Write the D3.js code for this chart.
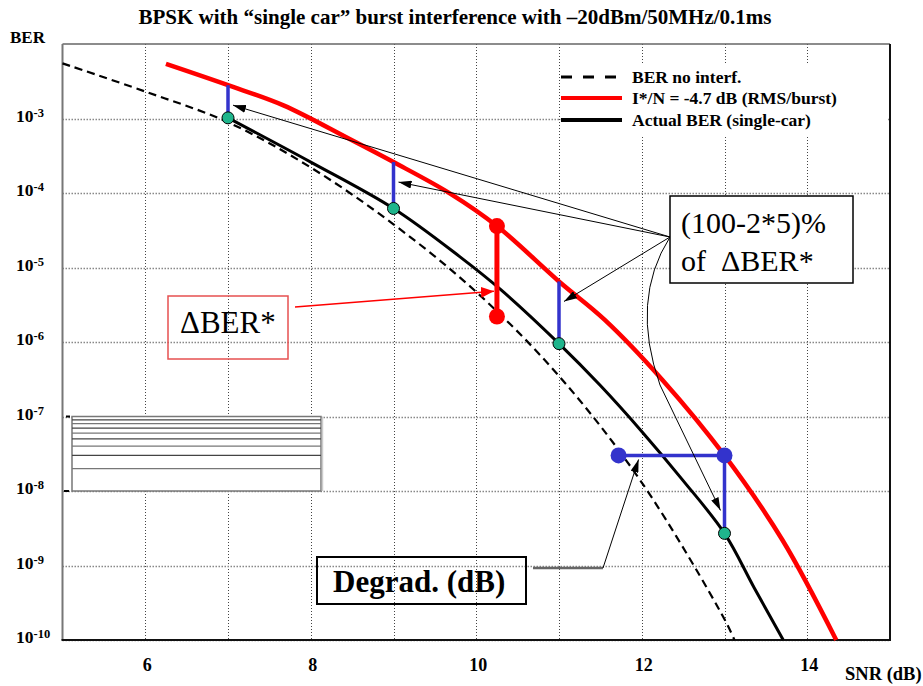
<!DOCTYPE html>
<html>
<head>
<meta charset="utf-8">
<script src="https://cdn.jsdelivr.net/npm/d3@7"></script>
<style>
  body { margin: 0; background: #fff; }
  svg { display: block; font-family: "Liberation Serif", "Times New Roman", serif; }
</style>
</head>
<body>
<div class="chartWrapper"></div>
<script>

// values (SNR in dB, BER)
var noInterfSnr = [5, 6, 7, 8, 9, 10, 11, 12, 13, 13.12]
var noInterfBer = [5.5e-3, 2.3e-3, 8.9e-4, 2.2e-4, 3.8e-5, 4.7e-6, 3.5e-7, 1.3e-8, 1.9e-10, 1e-10]

var burstSnr = [6.25, 7, 7.67, 8.47, 9, 9.68, 10.25, 11, 11.55, 12.25, 13, 13.7, 14.35]
var burstBer = [5.4e-3, 2.8e-3, 1.5e-3, 5.3e-4, 2.6e-4, 9.9e-5, 3.6e-5, 6.5e-6, 2.0e-6, 3.1e-7, 3.0e-8, 2.2e-9, 1e-10]

var actualSnr = [7, 8, 9, 9.8, 10.3, 11, 11.5, 12, 12.5, 13, 13.36, 13.71]
var actualBer = [1.02e-3, 2.6e-4, 6.2e-5, 1.4e-5, 5.0e-6, 9.5e-7, 2.6e-7, 6.3e-8, 1.38e-8, 2.7e-9, 5.0e-10, 1e-10]

// blue bars: from actual BER (bottom) up to I*/N curve (top)
var markSnr = [7, 9, 11, 13]
var markTop = [2.8e-3, 2.6e-4, 6.5e-6, 3.0e-8]
var markBottom = [1.02e-3, 6.2e-5, 9.5e-7, 2.7e-9]

// delta BER* (red) and degradation (blue horizontal)
var deltaSnr = 10.25
var deltaBer = [3.6e-5, 2.2e-6]
var degradSnr = [11.72, 13]
var degradBer = 3.0e-8

var xTicks = [6, 8, 10, 12, 14]
var xGrid = [6, 7, 8, 9, 10, 11, 12, 13, 14]
var yExponents = [-3, -4, -5, -6, -7, -8, -9, -10]
var minorFactors = [2, 3, 4, 5, 6, 7, 8, 9]

var legendLabels = ['BER no interf.', 'I*/N = -4.7 dB (RMS/burst)', 'Actual BER (single-car)']

var width = 923, height = 686
var red = '#ff0000', blue = '#3333cc', green = '#1fb58c'

var svg = d3.select('.chartWrapper').append('svg')
            .attr('width', width)
            .attr('height', height)

var x = d3.scaleLinear().domain([5, 15]).range([62.5, 890])
var y = d3.scaleLog().domain([1e-10, 1e-2]).range([640, 44])

var defs = svg.append('defs')
function arrowMarker(id, color, len, wid) {
    defs.append('marker')
        .attr('id', id)
        .attr('markerUnits', 'userSpaceOnUse')
        .attr('viewBox', '0 0 ' + len + ' ' + wid)
        .attr('refX', len).attr('refY', wid / 2)
        .attr('markerWidth', len).attr('markerHeight', wid)
        .attr('orient', 'auto')
        .append('path')
        .attr('d', 'M0,0L' + len + ',' + wid / 2 + 'L0,' + wid + 'Z')
        .attr('fill', color)
}
arrowMarker('arrowBlack', '#000', 13, 8)
arrowMarker('arrowRed', red, 13, 11)

//---------------- grid ----------------
svg.append('g').selectAll('line')
   .data(xGrid).enter().append('line')
   .attr('x1', d => Math.round(x(d)) + 0.5).attr('x2', d => Math.round(x(d)) + 0.5)
   .attr('y1', y(1e-2)).attr('y2', y(1e-10))
   .attr('stroke', '#444').attr('stroke-width', 1).attr('stroke-dasharray', '1,2')

svg.append('g').selectAll('line')
   .data(yExponents).enter().append('line')
   .attr('x1', x(5)).attr('x2', x(15))
   .attr('y1', d => Math.round(y(Math.pow(10, d))) + 0.5)
   .attr('y2', d => Math.round(y(Math.pow(10, d))) + 0.5)
   .attr('stroke', '#888').attr('stroke-width', 1.5).attr('stroke-dasharray', '1.5,1.5')

// leftover minor-grid box between 1e-8 and 1e-7
var boxL = 72, boxR = 321
var minor = svg.append('g')
minor.append('rect')
     .attr('x', boxL).attr('y', y(1e-7))
     .attr('width', boxR - boxL).attr('height', y(1e-8) - y(1e-7))
     .attr('fill', '#fff').attr('stroke', '#777').attr('stroke-width', 1.5)
minor.selectAll('line.minor')
     .data(minorFactors).enter().append('line')
     .attr('class', 'minor')
     .attr('x1', boxL).attr('x2', boxR)
     .attr('y1', d => y(d * 1e-8)).attr('y2', d => y(d * 1e-8))
     .attr('stroke', d => d % 2 ? '#444' : '#777').attr('stroke-width', 1.2)
minor.append('line').attr('x1', boxR + 1.5).attr('x2', boxR + 1.5)
     .attr('y1', y(1e-7)).attr('y2', y(1e-8)).attr('stroke', '#ccc').attr('stroke-width', 1.5)
minor.append('line').attr('x1', 66).attr('x2', 70).attr('y1', y(1e-7)).attr('y2', y(1e-7))
     .attr('stroke', '#000').attr('stroke-width', 2)
minor.append('line').attr('x1', 64).attr('x2', 69).attr('y1', y(1e-8)).attr('y2', y(1e-8))
     .attr('stroke', '#000').attr('stroke-width', 2)

//---------------- frame ----------------
svg.append('line').attr('x1', x(5)).attr('x2', x(15)).attr('y1', y(1e-2)).attr('y2', y(1e-2))
   .attr('stroke', '#666').attr('stroke-width', 1.5)
svg.append('line').attr('x1', x(5)).attr('x2', x(5)).attr('y1', y(1e-2)).attr('y2', y(1e-10))
   .attr('stroke', '#777').attr('stroke-width', 2)
svg.append('line').attr('x1', x(15)).attr('x2', x(15)).attr('y1', y(1e-2)).attr('y2', y(1e-10))
   .attr('stroke', '#111').attr('stroke-width', 2)
svg.append('line').attr('x1', x(5) - 1).attr('x2', x(15) + 1).attr('y1', y(1e-10)).attr('y2', y(1e-10))
   .attr('stroke', '#111').attr('stroke-width', 2)

//---------------- axis texts ----------------
svg.append('text')
   .attr('x', 455).attr('y', 24)
   .attr('text-anchor', 'middle')
   .attr('font-size', 21).attr('font-weight', 'bold')
   .text('BPSK with \u201csingle car\u201d burst interference with \u201320dBm/50MHz/0.1ms')

svg.append('text').attr('x', 10).attr('y', 43)
   .attr('font-size', 17).attr('font-weight', 'bold').text('BER')

svg.append('text').attr('x', 845).attr('y', 680)
   .attr('font-size', 18.5).attr('font-weight', 'bold').text('SNR (dB)')

var yLabels = svg.append('g').selectAll('text')
                 .data(yExponents).enter().append('text')
                 .attr('x', 16).attr('y', d => y(Math.pow(10, d)) + 3)
                 .attr('font-size', 17.5).attr('font-weight', 'bold')
yLabels.append('tspan').text('10')
yLabels.append('tspan').attr('font-size', 12.5).attr('dy', -5).text(d => d)

svg.append('g').selectAll('text')
   .data(xTicks).enter().append('text')
   .attr('x', d => x(d) + 2).attr('y', 671)
   .attr('text-anchor', 'middle')
   .attr('font-size', 18).attr('font-weight', 'bold')
   .text(d => d)

//---------------- curves ----------------
var line = d3.line()
             .x(d => x(d[0]))
             .y(d => y(d[1]))
             .curve(d3.curveCatmullRom.alpha(0.5))

svg.append('path')
   .datum(d3.zip(noInterfSnr, noInterfBer))
   .attr('d', line)
   .attr('fill', 'none').attr('stroke', '#000').attr('stroke-width', 2.2)
   .attr('stroke-dasharray', '8,5')

svg.append('path')
   .datum(d3.zip(actualSnr, actualBer))
   .attr('d', line)
   .attr('fill', 'none').attr('stroke', '#000').attr('stroke-width', 3)

svg.append('path')
   .datum(d3.zip(burstSnr, burstBer))
   .attr('d', line)
   .attr('fill', 'none').attr('stroke', red).attr('stroke-width', 4.5)

//---------------- marks ----------------
svg.append('g').selectAll('line')
   .data(markSnr).enter().append('line')
   .attr('x1', d => x(d)).attr('x2', d => x(d))
   .attr('y1', (d, i) => y(markTop[i])).attr('y2', (d, i) => y(markBottom[i]))
   .attr('stroke', blue).attr('stroke-width', 3.5)

// delta BER*
svg.append('line')
   .attr('x1', x(deltaSnr)).attr('x2', x(deltaSnr))
   .attr('y1', y(deltaBer[0])).attr('y2', y(deltaBer[1]))
   .attr('stroke', red).attr('stroke-width', 5)
svg.append('g').selectAll('circle')
   .data(deltaBer).enter().append('circle')
   .attr('cx', x(deltaSnr)).attr('cy', d => y(d)).attr('r', 8)
   .attr('fill', red)

// degradation
svg.append('line')
   .attr('x1', x(degradSnr[0])).attr('x2', x(degradSnr[1]))
   .attr('y1', y(degradBer)).attr('y2', y(degradBer))
   .attr('stroke', blue).attr('stroke-width', 3.5)
svg.append('g').selectAll('circle')
   .data(degradSnr).enter().append('circle')
   .attr('cx', d => x(d)).attr('cy', y(degradBer)).attr('r', 8)
   .attr('fill', blue)

svg.append('g').selectAll('circle')
   .data(markSnr).enter().append('circle')
   .attr('cx', d => x(d)).attr('cy', (d, i) => y(markBottom[i])).attr('r', 6)
   .attr('fill', green).attr('stroke', '#000').attr('stroke-width', 1)

//---------------- annotations ----------------
// (100-2*5)% of delta BER*
var pctBox = { x: 670, y: 196, w: 183, h: 87 }
var pctOrigin = [pctBox.x, 237]
var pct = svg.append('g')
markSnr.slice(0, 3).forEach(function(s, i) {
    pct.append('line')
       .attr('x1', pctOrigin[0]).attr('y1', pctOrigin[1])
       .attr('x2', x(s) + 5).attr('y2', y(markTop[i]) + 20)
       .attr('stroke', '#000').attr('stroke-width', 1)
       .attr('marker-end', 'url(#arrowBlack)')
})
var tip4 = [x(markSnr[3]) - 4, y(markTop[3]) + 55]
pct.append('path')
   .attr('d', 'M' + pctOrigin + ' Q630,300 660,385 L' + tip4)
   .attr('fill', 'none').attr('stroke', '#000').attr('stroke-width', 1)
   .attr('marker-end', 'url(#arrowBlack)')
pct.append('rect')
   .attr('x', pctBox.x).attr('y', pctBox.y).attr('width', pctBox.w).attr('height', pctBox.h)
   .attr('fill', '#fff').attr('stroke', '#000').attr('stroke-width', 1.5)
pct.append('text').attr('x', 681).attr('y', 233).attr('font-size', 30).text('(100-2*5)%')
pct.append('text').attr('x', 681).attr('y', 271).attr('font-size', 30)
   .attr('xml:space', 'preserve').text('of  \u0394BER*')

// delta BER* box
var dBox = { x: 168, y: 296, w: 120, h: 63 }
svg.append('line')
   .attr('x1', 295).attr('y1', 307)
   .attr('x2', x(deltaSnr) - 3).attr('y2', y(Math.sqrt(deltaBer[0] * deltaBer[1])) + 20)
   .attr('stroke', red).attr('stroke-width', 1.5)
   .attr('marker-end', 'url(#arrowRed)')
svg.append('rect')
   .attr('x', dBox.x).attr('y', dBox.y).attr('width', dBox.w).attr('height', dBox.h)
   .attr('fill', 'none').attr('stroke', '#e65050').attr('stroke-width', 1.5)
svg.append('text').attr('x', 180).attr('y', 333).attr('font-size', 31).text('\u0394BER*')

// Degrad. (dB)
var gBox = { x: 317, y: 557, w: 209, h: 47 }
svg.append('line').attr('x1', 533).attr('x2', 603).attr('y1', 568).attr('y2', 568)
   .attr('stroke', '#666').attr('stroke-width', 2.5)
svg.append('line')
   .attr('x1', 603).attr('y1', 568)
   .attr('x2', x(degradSnr[0]) + 20).attr('y2', y(degradBer) + 4)
   .attr('stroke', '#000').attr('stroke-width', 1)
   .attr('marker-end', 'url(#arrowBlack)')
svg.append('rect')
   .attr('x', gBox.x).attr('y', gBox.y).attr('width', gBox.w).attr('height', gBox.h)
   .attr('fill', 'none').attr('stroke', '#000').attr('stroke-width', 2)
svg.append('text').attr('x', 333).attr('y', 592)
   .attr('font-size', 31).attr('font-weight', 'bold').text('Degrad. (dB)')

//---------------- legend ----------------
var legend = svg.append('g')
legend.append('rect').attr('x', 562).attr('y', 63).attr('width', 326).attr('height', 72)
      .attr('fill', '#fff')
var legendStyles = [
    { color: '#000', width: 3, dash: '11,11' },
    { color: red, width: 4, dash: null },
    { color: '#000', width: 4, dash: null }
]
var legendRows = legend.selectAll('g.row')
                       .data(legendLabels).enter().append('g')
                       .attr('class', 'row')
                       .attr('transform', (d, i) => 'translate(0,' + [77, 98, 120][i] + ')')
legendRows.append('line')
          .attr('x1', 561).attr('x2', 622).attr('y1', 0).attr('y2', 0)
          .attr('stroke', (d, i) => legendStyles[i].color)
          .attr('stroke-width', (d, i) => legendStyles[i].width)
          .attr('stroke-dasharray', (d, i) => legendStyles[i].dash)
legendRows.append('text')
          .attr('x', 632).attr('y', 5.5)
          .attr('font-size', 17.5).attr('font-weight', 'bold')
          .text(d => d)

</script>
</body>
</html>
